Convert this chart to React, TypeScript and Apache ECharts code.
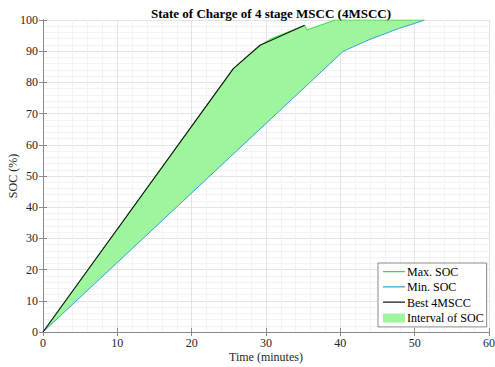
import React, { useEffect, useRef } from "react";
import * as echarts from "echarts";

const titleText = "State of Charge of 4 stage MSCC (4MSCC)";
const xName = "Time (minutes)";
const yName = "SOC (%)";
const xTicks = [0, 10, 20, 30, 40, 50, 60];
const yTicks = [0, 10, 20, 30, 40, 50, 60, 70, 80, 90, 100];

const maxSOC: [number, number][] = [
  [0, 0], [25.6, 84.4], [29.2, 91.9], [30.8, 94.1], [35.2, 98.3],
  [35.5, 96.8], [39.3, 100], [51.3, 100],
];
const minSOC: [number, number][] = [
  [0, 0], [40.4, 90], [44, 93.8], [48, 97.4], [50, 98.9], [51.3, 100],
];
const best4MSCC: [number, number][] = [
  [0, 0], [25.6, 84.4], [29.2, 91.9], [35.2, 98.3],
];

const FONT = "Liberation Serif";
const LINE_ICON = "path://M0,0h0.01v0.01h-0.01z M0,6h22v1.2h-22z M21.99,13.99h0.01v0.01h-0.01z";

export default function App() {
  const ref = useRef<HTMLDivElement>(null);
  useEffect(() => {
    if (!ref.current) return;
    const chart = echarts.init(ref.current, null, { renderer: "svg" });
    const axisLineColor = "#8a8a8a";
    const baseAxis = {
      type: "value",
      min: 0,
      axisLine: { show: true, lineStyle: { color: axisLineColor, width: 1 } },
      axisTick: { show: true, inside: true, length: 4, lineStyle: { color: axisLineColor } },
      minorTick: { show: false, splitNumber: 5 },
    };
    chart.setOption({
      animation: false,
      backgroundColor: "#ffffff",
      title: {
        text: titleText,
        left: 266,
        textAlign: "center",
        top: 2,
        textStyle: { fontFamily: FONT, fontSize: 13, fontWeight: "bold", color: "#000" },
      },
      grid: { left: 43, right: 6, top: 20, bottom: 35, containLabel: false, outerBoundsMode: "none" },
      xAxis: [
        {
          ...baseAxis,
          max: 60,
          interval: 10,
          name: xName,
          nameLocation: "middle",
          nameGap: 19,
          nameMoveOverlap: false,
          nameTextStyle: { fontFamily: FONT, fontSize: 12, color: "#262626" },
          axisLabel: { fontFamily: FONT, fontSize: 12, color: "#262626", margin: 5,
            formatter: (v: number) => (xTicks.includes(v) ? String(v) : "") },
          splitLine: { show: true, lineStyle: { color: "#e3e3e3", width: 1 } },
          minorSplitLine: { show: true, lineStyle: { color: "#f3f3f3", width: 1 } },
        },
        {
          ...baseAxis,
          max: 60,
          interval: 10,
          position: "top",
          axisLabel: { show: false },
          splitLine: { show: false },
        },
      ],
      yAxis: [
        {
          ...baseAxis,
          max: 100,
          interval: 10,
          name: yName,
          nameLocation: "middle",
          nameGap: 24,
          nameMoveOverlap: false,
          nameTextStyle: { fontFamily: FONT, fontSize: 12, color: "#262626" },
          axisLabel: { fontFamily: FONT, fontSize: 12, color: "#262626", margin: 5,
            formatter: (v: number) => (yTicks.includes(v) ? String(v) : "") },
          splitLine: { show: true, lineStyle: { color: "#e3e3e3", width: 1 } },
          minorSplitLine: { show: true, lineStyle: { color: "#f3f3f3", width: 1 } },
        },
        {
          ...baseAxis,
          max: 100,
          interval: 10,
          position: "right",
          axisLabel: { show: false },
          splitLine: { show: false },
        },
      ],
      legend: {
        orient: "vertical",
        left: 378,
        top: 263,
        padding: [2, 3, 2, 5],
        itemWidth: 22,
        itemHeight: 14,
        itemGap: 1.3,
        backgroundColor: "#ffffff",
        borderColor: "#8a8a8a",
        borderWidth: 1,
        borderRadius: 0,
        textStyle: { fontFamily: FONT, fontSize: 12, color: "#000", lineHeight: 14, padding: [0, 0, 0, -3] },
        data: [
          { name: "Max. SOC", icon: LINE_ICON },
          { name: "Min. SOC", icon: LINE_ICON },
          { name: "Best 4MSCC", icon: LINE_ICON },
          { name: "Interval of SOC", icon: "path://M0,0h0.01v0.01h-0.01z M0,2.5h22v9h-22z M21.99,13.99h0.01v0.01h-0.01z" },
        ],
      },
      series: [
        {
          name: "Interval of SOC",
          type: "custom",
          z: 1,
          itemStyle: { color: "#9ef59e" },
          data: [[0, 0]],
          renderItem: (_params: any, api: any) => {
            const pts: number[][] = [];
            maxSOC.forEach((p) => pts.push(api.coord(p)));
            [...minSOC].reverse().forEach((p) => pts.push(api.coord(p)));
            return {
              type: "polygon",
              shape: { points: pts },
              style: { fill: "#9ef59e", stroke: "none" },
            };
          },
        },
        {
          name: "Max. SOC",
          type: "line",
          z: 2,
          data: maxSOC,
          symbol: "none",
          color: "#3ddc3d",
          lineStyle: { color: "#3ddc3d", width: 1 },
        },
        {
          name: "Min. SOC",
          type: "line",
          z: 3,
          data: minSOC,
          symbol: "none",
          color: "#2ea6dc",
          lineStyle: { color: "#2ea6dc", width: 1 },
        },
        {
          name: "Best 4MSCC",
          type: "line",
          z: 4,
          data: best4MSCC,
          symbol: "none",
          color: "#1a1a1a",
          lineStyle: { color: "#1a1a1a", width: 1.2 },
        },
      ],
    });
    return () => chart.dispose();
  }, []);
  return <div ref={ref} style={{ width: 495, height: 367, position: "absolute", left: 0, top: 0 }} />;
}
